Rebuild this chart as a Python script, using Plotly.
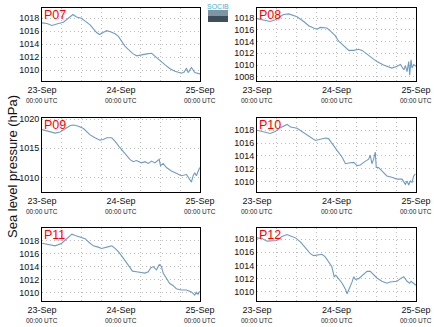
import pandas as pd
import plotly.graph_objects as go

START = pd.Timestamp("2013-09-23 00:00")

stations = ["P07", "P08", "P09", "P10", "P11", "P12"]

p07_hours = [0, 1.5, 3, 4, 5, 6.5, 7.5, 8.5, 9.4, 10.5, 12, 13, 14.6, 16.6, 17.5, 18.6, 19.6, 21, 22.2, 23.2, 24.2, 25.2, 26.2, 27.7, 28.8, 30.3, 31.8, 33.3, 34.3, 35.8, 37.4, 38.9, 40.4, 42.4, 43.2, 43.9, 44.4, 45.4, 46.4, 47.4, 48]
p07_hpa = [1017.3, 1017.2, 1016.9, 1017.0, 1017.2, 1017.4, 1017.8, 1018.3, 1018.6, 1018.2, 1018.0, 1017.6, 1017.0, 1015.8, 1015.5, 1015.8, 1016.1, 1015.9, 1015.6, 1015.2, 1014.5, 1013.7, 1013.2, 1012.5, 1012.2, 1012.4, 1012.5, 1012.6, 1012.1, 1011.5, 1010.8, 1010.2, 1009.8, 1009.5, 1009.7, 1010.3, 1009.6, 1010.4, 1009.6, 1009.4, 1009.4]

p08_hours = [0, 3.0, 4.0, 5.5, 7.0, 8.0, 9.6, 10.6, 12.1, 14.1, 15.6, 17.1, 18.1, 19.1, 21.1, 22.1, 23.6, 24.6, 26.2, 27.7, 29.2, 30.7, 31.7, 32.7, 34.2, 36.2, 38.2, 39.7, 40.7, 42.3, 43.3, 44.3, 44.8, 45.3, 45.8, 46.1, 46.5, 46.8, 47.3, 48.0]
p08_hpa = [1017.9, 1017.5, 1017.4, 1017.7, 1018.3, 1018.6, 1018.7, 1018.5, 1018.2, 1017.4, 1016.7, 1016.3, 1016.1, 1016.4, 1016.3, 1015.8, 1015.0, 1014.1, 1013.2, 1012.5, 1012.5, 1012.7, 1012.5, 1012.1, 1011.5, 1010.6, 1010.0, 1009.7, 1009.5, 1009.8, 1010.1, 1009.2, 1009.9, 1008.9, 1010.6, 1008.3, 1010.9, 1009.5, 1010.1, 1009.8]

p09_hours = [0, 2.5, 4.0, 5.5, 7.1, 8.6, 9.6, 11.1, 12.6, 14.6, 16.1, 17.6, 18.6, 19.7, 21.2, 22.2, 23.7, 25.2, 26.7, 27.7, 28.7, 30.2, 31.3, 32.3, 33.3, 34.3, 35.6, 36.0, 36.8, 37.8, 39.3, 40.8, 42.3, 43.9, 44.9, 45.4, 45.9, 46.4, 46.9, 47.4, 47.9]
p09_hpa = [1018.2, 1017.8, 1017.6, 1017.8, 1018.4, 1018.9, 1019.0, 1018.8, 1018.4, 1017.3, 1016.8, 1016.4, 1016.5, 1016.8, 1016.8, 1016.2, 1015.1, 1014.0, 1013.1, 1012.7, 1012.9, 1012.5, 1012.7, 1012.4, 1012.8, 1012.5, 1013.1, 1012.0, 1012.4, 1011.7, 1011.1, 1010.7, 1010.3, 1010.5, 1009.7, 1009.2, 1010.3, 1010.8, 1010.3, 1011.1, 1011.7]

p10_hours = [0, 3.0, 4.0, 5.5, 7.0, 9.1, 10.1, 12.1, 14.1, 16.1, 17.6, 19.1, 20.6, 21.6, 22.6, 24.1, 25.7, 26.7, 27.7, 29.2, 30.2, 31.2, 32.2, 33.7, 34.2, 34.7, 35.2, 35.7, 36.0, 36.7, 37.7, 39.2, 40.7, 42.3, 43.8, 44.8, 45.3, 45.8, 46.3, 46.8, 47.3, 47.8]
p10_hpa = [1018.0, 1017.6, 1017.5, 1017.8, 1018.4, 1018.9, 1018.5, 1018.3, 1017.6, 1016.8, 1016.4, 1016.6, 1016.8, 1016.7, 1015.9, 1014.9, 1013.8, 1012.8, 1012.9, 1013.0, 1012.5, 1012.6, 1013.0, 1013.5, 1014.1, 1012.8, 1013.5, 1014.6, 1012.2, 1012.2, 1011.7, 1010.9, 1010.7, 1010.4, 1010.4, 1009.6, 1010.1, 1009.5, 1010.1, 1009.9, 1010.9, 1011.2]

p11_hours = [0, 2.5, 4.0, 6.0, 7.6, 9.1, 10.1, 11.6, 13.1, 14.6, 15.6, 17.1, 18.1, 19.7, 21.2, 22.2, 23.2, 24.7, 26.2, 27.5, 28.7, 30.2, 31.3, 32.3, 33.0, 33.8, 34.8, 35.6, 36.3, 36.8, 37.8, 38.8, 39.8, 40.8, 42.3, 43.9, 45.4, 46.4, 46.9, 47.4, 47.9]
p11_hpa = [1017.6, 1017.4, 1017.2, 1017.6, 1018.3, 1019.0, 1018.8, 1018.6, 1018.3, 1017.6, 1017.2, 1017.0, 1016.8, 1017.0, 1017.2, 1016.8, 1016.3, 1015.3, 1014.3, 1013.3, 1013.2, 1013.1, 1013.0, 1013.2, 1013.8, 1014.0, 1013.5, 1014.3, 1014.0, 1013.0, 1012.2, 1011.4, 1011.1, 1010.6, 1010.4, 1010.4, 1010.1, 1009.6, 1010.1, 1009.7, 1010.2]

p12_hours = [0, 1.5, 3.0, 4.5, 6.0, 7.5, 9.1, 10.1, 11.6, 13.1, 14.6, 16.1, 17.1, 18.1, 19.6, 20.6, 21.6, 22.6, 23.3, 23.8, 24.6, 25.7, 26.7, 27.2, 27.7, 28.2, 28.7, 29.2, 29.7, 30.7, 31.7, 33.2, 34.2, 35.2, 36.2, 37.7, 39.2, 40.2, 42.3, 43.3, 44.3, 45.3, 46.1, 46.5, 47.3, 48.0]
p12_hpa = [1018.2, 1018.1, 1017.7, 1017.7, 1017.8, 1018.4, 1018.7, 1018.5, 1018.2, 1017.6, 1016.7, 1015.8, 1015.5, 1015.6, 1015.7, 1015.3, 1014.6, 1013.8, 1012.3, 1012.5, 1012.0, 1011.3, 1010.4, 1009.7, 1010.3, 1010.8, 1011.5, 1012.3, 1011.9, 1012.0, 1012.4, 1013.1, 1013.1, 1012.6, 1012.1, 1011.6, 1011.3, 1011.5, 1011.6, 1012.0, 1012.3, 1011.6, 1011.3, 1011.6, 1011.3, 1011.0]

series_hours = [p07_hours, p08_hours, p09_hours, p10_hours, p11_hours, p12_hours]
series_hpa = [p07_hpa, p08_hpa, p09_hpa, p10_hpa, p11_hpa, p12_hpa]

y_ranges = [[1008.3, 1019.6], [1007.3, 1019.7], [1007.5, 1020.2],
            [1008.4, 1019.9], [1008.7, 1019.95], [1008.6, 1019.7]]
y_dticks = [2, 2, 5, 2, 2, 2]

tick_dates = [START, START + pd.Timedelta(hours=24), START + pd.Timedelta(hours=48)]
tick_labels = ["23-Sep", "24-Sep", "25-Sep"]
tick_sub = "00:00 UTC"

W, H = 434, 327
col_x = [(42, 200), (257, 416)]
row_y = [(8, 81), (118, 192), (228, 301)]

LINE = "#6f9cc4"
GRID = "#bdbdbd"
DOTS = "1px,3px"
FONT = "Liberation Sans"

fig = go.Figure()
annotations = []
for i, name in enumerate(stations):
    r, c = divmod(i, 2)
    n = i + 1
    xa = "xaxis" if n == 1 else f"xaxis{n}"
    ya = "yaxis" if n == 1 else f"yaxis{n}"
    xr = "x" if n == 1 else f"x{n}"
    yr = "y" if n == 1 else f"y{n}"
    times = [START + pd.Timedelta(hours=h) for h in series_hours[i]]
    fig.add_trace(go.Scatter(x=times, y=series_hpa[i], mode="lines",
                             line=dict(color=LINE, width=1.1),
                             xaxis=xr, yaxis=yr, showlegend=False))
    x0, x1 = col_x[c]
    y0, y1 = row_y[r]
    fig.layout[xa] = dict(
        domain=[x0 / W, x1 / W], anchor=yr, type="date",
        range=[START, START + pd.Timedelta(hours=48)],
        tickvals=tick_dates, ticktext=tick_labels,
        tickfont=dict(size=9, color="#111", family=FONT),
        showline=True, mirror=True, linecolor="black", linewidth=1,
        showgrid=True, gridcolor=GRID, griddash=DOTS, gridwidth=1,
        minor=dict(dtick=6 * 3600 * 1000, showgrid=True, gridcolor=GRID,
                   griddash=DOTS, gridwidth=1),
        ticks="", zeroline=False, fixedrange=True, automargin=False,
    )
    fig.layout[ya] = dict(
        domain=[1 - y1 / H, 1 - y0 / H], anchor=xr,
        range=y_ranges[i], dtick=y_dticks[i], tick0=1000,
        tickfont=dict(size=9, color="#111", family=FONT),
        showline=True, mirror=True, linecolor="black", linewidth=1,
        showgrid=True, gridcolor=GRID, griddash=DOTS, gridwidth=1,
        ticks="", zeroline=False, fixedrange=True, automargin=False,
    )
    annotations.append(dict(text=name, xref=f"{xr} domain", yref=f"{yr} domain",
                            x=0.0, y=1.0, xanchor="left", yanchor="top",
                            xshift=0, yshift=2, showarrow=False,
                            font=dict(size=12.5, color="#ff0000", family=FONT)))
    for td in tick_dates:
        annotations.append(dict(text=tick_sub, xref=xr, yref="paper",
                                x=td, y=1 - (y1 + 14) / H, xanchor="center",
                                yanchor="top", showarrow=False,
                                font=dict(size=6.5, color="#222", family=FONT)))

annotations.append(dict(text="Sea level pressure (hPa)", xref="paper", yref="paper",
                        x=12 / W, y=1 - 167 / H, textangle=-90, showarrow=False,
                        xanchor="center", yanchor="middle",
                        font=dict(size=13, color="#111", family=FONT)))
annotations.append(dict(text="SOCIB", xref="paper", yref="paper",
                        x=218 / W, y=1 - 1 / H, xanchor="center", yanchor="top",
                        showarrow=False,
                        font=dict(size=7, color="#38b6d2", family=FONT)))

shapes = [
    dict(type="rect", xref="paper", yref="paper", x0=208 / W, x1=228 / W,
         y0=1 - 16 / H, y1=1 - 10 / H, fillcolor="#7d95a4", line=dict(width=0)),
    dict(type="rect", xref="paper", yref="paper", x0=208 / W, x1=228 / W,
         y0=1 - 22 / H, y1=1 - 16 / H, fillcolor="#3f4f5a", line=dict(width=0)),
]

fig.update_layout(
    width=W, height=H, margin=dict(l=0, r=0, t=0, b=0, pad=0, autoexpand=False),
    paper_bgcolor="white", plot_bgcolor="white",
    font=dict(family=FONT, size=9, color="#111"),
    annotations=annotations, shapes=shapes, showlegend=False,
)
fig.write_html("out.html")
